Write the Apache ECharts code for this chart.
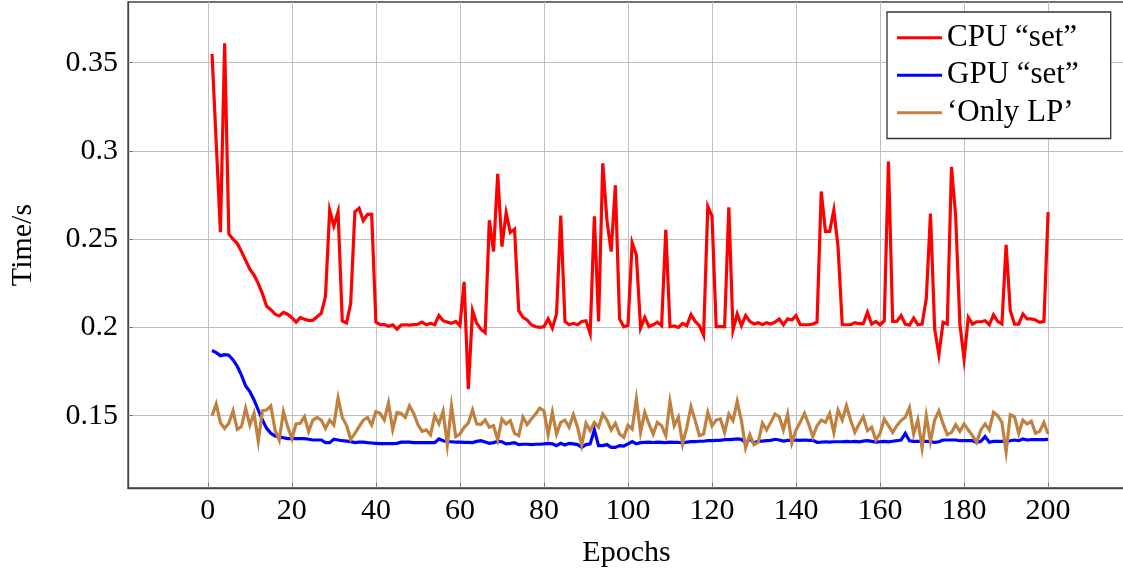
<!DOCTYPE html>
<html>
<head>
<meta charset="utf-8">
<script src="https://cdn.jsdelivr.net/npm/echarts@6/dist/echarts.min.js"></script>
<style>
  html, body { margin: 0; padding: 0; background: #fff; }
  #chart { width: 1123px; height: 571px; }
</style>
</head>
<body>
<div id="chart"></div>
<script>
// epochs 1..200
const epochs = Array.from({ length: 200 }, (_, i) => i + 1);

const cpuSet = [
  0.355, 0.3045, 0.254, 0.361, 0.253, 0.250, 0.2476, 0.243, 0.238, 0.233,
  0.2296, 0.225, 0.219, 0.212, 0.210, 0.2075, 0.2065, 0.2085, 0.2075, 0.2055,
  0.203, 0.2055, 0.2046, 0.204, 0.204, 0.206, 0.208, 0.2175, 0.2665, 0.2575,
  0.2655, 0.2037, 0.2025, 0.2135, 0.2655, 0.2675, 0.2605, 0.264, 0.264, 0.203,
  0.2016, 0.2016, 0.2007, 0.2015, 0.199, 0.2013, 0.2015, 0.2013, 0.2016, 0.2018,
  0.203, 0.2015, 0.2023, 0.2015, 0.2067, 0.2038, 0.203, 0.2023, 0.2034, 0.201,
  0.2258, 0.165, 0.2095, 0.2023, 0.199, 0.197, 0.2607, 0.243, 0.287, 0.2458,
  0.2649, 0.2538, 0.2557, 0.2095, 0.2057, 0.2042, 0.2015, 0.2004, 0.2, 0.2004,
  0.2048, 0.1996, 0.2076, 0.2634, 0.2034, 0.2015, 0.2023, 0.2015, 0.2034, 0.2038,
  0.1966, 0.263, 0.2034, 0.293, 0.2605, 0.243, 0.2805, 0.2048, 0.2004, 0.2012,
  0.248, 0.241, 0.1996, 0.2057, 0.2004, 0.2015, 0.203, 0.201, 0.2553, 0.2004,
  0.2008, 0.2, 0.2023, 0.201, 0.2073, 0.2034, 0.201, 0.1955, 0.2685, 0.263,
  0.2004, 0.2004, 0.2004, 0.268, 0.1985, 0.2076, 0.201, 0.2067, 0.2034, 0.2019,
  0.2027, 0.2015, 0.2027, 0.2019, 0.203, 0.2048, 0.2015, 0.2048, 0.2042, 0.2067,
  0.2015, 0.2015, 0.2015, 0.2019, 0.203, 0.277, 0.2544, 0.2544, 0.2665, 0.2458,
  0.2015, 0.2015, 0.2015, 0.2027, 0.2021, 0.2021, 0.2086, 0.2019, 0.2034, 0.2015,
  0.2038, 0.294, 0.2034, 0.2034, 0.2067, 0.2019, 0.2013, 0.2053, 0.2015, 0.2019,
  0.2162, 0.2645, 0.199, 0.1845, 0.2029, 0.2019, 0.291, 0.263, 0.2019, 0.182,
  0.2057, 0.2019, 0.2032, 0.2032, 0.2038, 0.2015, 0.2071, 0.2034, 0.2019, 0.2468,
  0.2095, 0.2019, 0.2019, 0.2076, 0.2048, 0.2048, 0.2042, 0.2029, 0.2034, 0.2653
];

const gpuSet = [
  0.1869, 0.1857, 0.184, 0.1846, 0.1842, 0.1816, 0.178, 0.173, 0.1668, 0.1636,
  0.1589, 0.1532, 0.1475, 0.1428, 0.140, 0.1385, 0.138, 0.1375, 0.137, 0.137,
  0.137, 0.137, 0.137, 0.1366, 0.1362, 0.1362, 0.1362, 0.1347, 0.1347, 0.1366,
  0.1362, 0.1358, 0.1356, 0.1353, 0.1347, 0.135, 0.135, 0.1347, 0.1345, 0.1343,
  0.1341, 0.1341, 0.1341, 0.1341, 0.1343, 0.135, 0.135, 0.135, 0.1347, 0.1347,
  0.1347, 0.1347, 0.1347, 0.1347, 0.1368, 0.1358, 0.1352, 0.1352, 0.135, 0.135,
  0.1349, 0.1349, 0.1347, 0.1354, 0.1358, 0.1351, 0.1343, 0.1347, 0.1354, 0.1352,
  0.134, 0.1343, 0.1347, 0.1336, 0.1338, 0.1338, 0.1336, 0.1338, 0.1338, 0.134,
  0.1343, 0.134, 0.133, 0.1343, 0.1334, 0.1343, 0.134, 0.1336, 0.132, 0.1336,
  0.134, 0.1419, 0.133, 0.133, 0.1336, 0.132, 0.132, 0.133, 0.1328, 0.134,
  0.1353, 0.134, 0.1347, 0.1349, 0.135, 0.1348, 0.135, 0.1349, 0.1347, 0.135,
  0.1349, 0.1348, 0.1345, 0.135, 0.1353, 0.1353, 0.1355, 0.1355, 0.1358, 0.1358,
  0.136, 0.136, 0.1364, 0.1364, 0.1366, 0.1368, 0.1366, 0.1345, 0.1368, 0.1345,
  0.1356, 0.1356, 0.1358, 0.136, 0.1366, 0.1362, 0.1356, 0.136, 0.136, 0.1362,
  0.136, 0.1362, 0.136, 0.136, 0.1349, 0.135, 0.1352, 0.135, 0.1352, 0.1352,
  0.1352, 0.1354, 0.1352, 0.1354, 0.1352, 0.1356, 0.1358, 0.1354, 0.135, 0.1352,
  0.1354, 0.1351, 0.1355, 0.1358, 0.1362, 0.14, 0.1358, 0.1354, 0.1354, 0.1354,
  0.1354, 0.1352, 0.1349, 0.1352, 0.1362, 0.1362, 0.1362, 0.1362, 0.1358, 0.1358,
  0.1358, 0.1358, 0.1349, 0.1354, 0.1381, 0.1349, 0.1354, 0.1354, 0.1354, 0.1354,
  0.1358, 0.1362, 0.1358, 0.1368, 0.1362, 0.1364, 0.1364, 0.1364, 0.1364, 0.1365
];

const onlyLP = [
  0.150, 0.1566, 0.146, 0.1428, 0.1457, 0.1528, 0.1422, 0.1438, 0.1541, 0.1447,
  0.1513, 0.1355, 0.1528, 0.1532, 0.1555, 0.1419, 0.1362, 0.1523, 0.1438, 0.137,
  0.1453, 0.1457, 0.1494, 0.141, 0.1475, 0.149, 0.1475, 0.1428, 0.1475, 0.1447,
  0.160, 0.149, 0.1447, 0.1366, 0.140, 0.1438, 0.1475, 0.149, 0.1447, 0.1523,
  0.1513, 0.1475, 0.1572, 0.1422, 0.1517, 0.1513, 0.149, 0.1556, 0.1513, 0.145,
  0.1411, 0.1419, 0.1392, 0.150, 0.1453, 0.1525, 0.1335, 0.1555, 0.1381, 0.1396,
  0.1434, 0.1457, 0.1532, 0.1453, 0.1449, 0.1475, 0.1434, 0.1443, 0.1362, 0.1481,
  0.1453, 0.1472, 0.140, 0.1387, 0.1491, 0.1449, 0.1481, 0.1509, 0.1543, 0.1528,
  0.1392, 0.1519, 0.1396, 0.1462, 0.1475, 0.1434, 0.1506, 0.1434, 0.1332, 0.1457,
  0.1415, 0.1462, 0.1434, 0.1509, 0.1475, 0.1419, 0.1457, 0.1396, 0.1377, 0.1445,
  0.1424, 0.1595, 0.1405, 0.1519, 0.1453, 0.1396, 0.1462, 0.1443, 0.1387, 0.158,
  0.1443, 0.1491, 0.134, 0.1434, 0.1551, 0.1472, 0.1387, 0.1396, 0.1519, 0.1443,
  0.1475, 0.1481, 0.1405, 0.1509, 0.1472, 0.158, 0.1472, 0.1318, 0.1392, 0.1335,
  0.1349, 0.1457, 0.1419, 0.1462, 0.1509, 0.1494, 0.1419, 0.1509, 0.1345, 0.1419,
  0.1462, 0.1513, 0.1453, 0.1381, 0.1443, 0.1475, 0.1462, 0.1513, 0.1405, 0.1532,
  0.1475, 0.1556, 0.1475, 0.1405, 0.1453, 0.1494, 0.1415, 0.1434, 0.1362, 0.140,
  0.1481, 0.1443, 0.1405, 0.1443, 0.1472, 0.1491, 0.1545, 0.1396, 0.1475, 0.1318,
  0.150, 0.1354, 0.1475, 0.1527, 0.1453, 0.1392, 0.1405, 0.1449, 0.1411, 0.1453,
  0.1419, 0.1387, 0.1349, 0.1419, 0.1453, 0.1419, 0.1519, 0.150, 0.1462, 0.1295,
  0.1506, 0.1494, 0.140, 0.1475, 0.1453, 0.1468, 0.140, 0.1411, 0.1462, 0.1396
];

const xTicks = [0, 20, 40, 60, 80, 100, 120, 140, 160, 180, 200];
const yTicks = [0.15, 0.2, 0.25, 0.3, 0.35];

const FONT = 'Liberation Serif';

function pairs(vals) {
  return epochs.map((e, i) => [e, vals[i]]);
}

const chart = echarts.init(document.getElementById('chart'), null, { renderer: 'canvas' });

chart.setOption({
  animation: false,
  backgroundColor: '#fff',
  textStyle: { fontFamily: FONT, color: '#000' },
  grid: {
    left: 128,
    top: 2,
    right: -2,
    bottom: 83,
    containLabel: false,
    outerBoundsMode: 'none',
    show: true,
    borderColor: '#444',
    borderWidth: 1.3,
    backgroundColor: 'transparent'
  },
  legend: {
    left: 887,
    top: 12,
    orient: 'vertical',
    icon: 'rect',
    itemWidth: 45,
    itemHeight: 3,
    itemGap: 0,
    padding: [7, 32, 7, 10],
    borderColor: '#333',
    borderWidth: 1.3,
    backgroundColor: '#fff',
    textStyle: { fontFamily: FONT, fontSize: 31, color: '#000', lineHeight: 37.5 }
  },
  xAxis: {
    type: 'value',
    min: -19,
    max: 218.3,
    name: 'Epochs',
    nameLocation: 'middle',
    nameGap: 50,
    nameTextStyle: { fontFamily: FONT, fontSize: 30, color: '#000' },
    axisLine: { show: true, onZero: false, lineStyle: { color: '#444', width: 1.3 } },
    axisTick: { show: true, inside: true, length: 5, customValues: xTicks, lineStyle: { color: '#777' } },
    axisLabel: { customValues: xTicks, fontFamily: FONT, fontSize: 30, color: '#000', margin: 8 },
    splitLine: { show: true, lineStyle: { color: '#c0c0c0', width: 1 } }
  },
  yAxis: {
    type: 'value',
    min: 0.109,
    max: 0.3844,
    name: 'Time/s',
    nameLocation: 'middle',
    nameGap: 90,
    nameRotate: 90,
    nameTextStyle: { fontFamily: FONT, fontSize: 30, color: '#000' },
    axisLine: { show: true, onZero: false, lineStyle: { color: '#444', width: 1.3 } },
    axisTick: { show: true, inside: true, length: 5, customValues: yTicks, lineStyle: { color: '#777' } },
    axisLabel: {
      customValues: yTicks,
      fontFamily: FONT, fontSize: 30, color: '#000', margin: 10,
      formatter: v => String(+v.toFixed(2))
    },
    splitLine: { show: true, lineStyle: { color: '#c0c0c0', width: 1 } }
  },
  series: [
    {
      name: 'CPU “set”',
      type: 'line',
      data: pairs(cpuSet),
      showSymbol: false,
      color: '#ff0000',
      lineStyle: { color: '#ff0000', width: 3.2, join: 'miter' }
    },
    {
      name: 'GPU “set”',
      type: 'line',
      data: pairs(gpuSet),
      showSymbol: false,
      color: '#0000ff',
      lineStyle: { color: '#0000ff', width: 3.2, join: 'miter' }
    },
    {
      name: '‘Only LP’',
      type: 'line',
      data: pairs(onlyLP),
      showSymbol: false,
      color: '#bf8040',
      lineStyle: { color: '#bf8040', width: 3.2, join: 'miter' }
    }
  ]
});
</script>
</body>
</html>
